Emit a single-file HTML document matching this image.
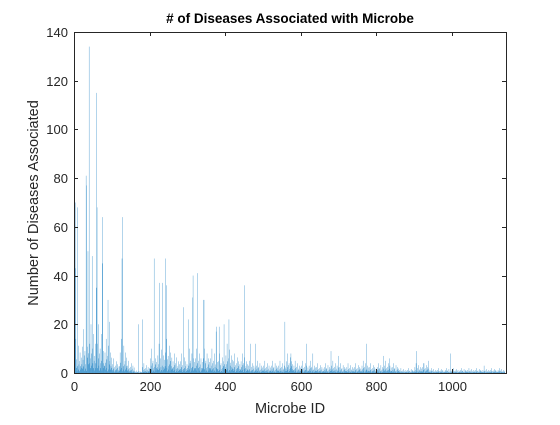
<!DOCTYPE html>
<html><head><meta charset="utf-8"><style>
body{margin:0;background:#fff;}
svg text{font-family:"Liberation Sans",Arial,sans-serif;fill:#262626;}
</style></head><body>
<svg id="chart" width="560" height="420" viewBox="0 0 560 420" xmlns="http://www.w3.org/2000/svg">
<rect width="560" height="420" fill="#fff"/>
<g id="bars"></g>
<g id="axes"></g>
<text x="290" y="23" text-anchor="middle" font-size="13.5" font-weight="bold" style="fill:#000"># of Diseases Associated with Microbe</text>
<text x="290" y="413" text-anchor="middle" font-size="14.5">Microbe ID</text>
<text transform="translate(38,203) rotate(-90)" text-anchor="middle" font-size="14.5">Number of Diseases Associated</text>
</svg>
<script>
// typical peak level per block of 20 microbe IDs
const blockSize = 20;
const blockLevels = [14,18,20,20,14,6,14,5,1,4,10,12,14,8,8,10,10,10,10,8,12,8,8,5,5,5,5,5,8,5,5,5,4,4,5,4,4,4,5,4,4,5,4,2,2,4,4,2,2,2,2,2,2,2,2,2,2];
// relative heights of the 20 bars within each block (read pattern)
const withinBlock = [0.2,0.6,0.1,0.3,1,0.15,0.4,0.05,0.5,0.2,0.1,0.8,0.25,0.05,0.35,0.6,0.1,0.2,0.45,0.15];
// notable spikes: microbe IDs and their values
const spikeIds =    [40,60,32,33,3,9,61,75,129,127,37,48,4,59,76,90,94,212,243,244,227,235,170,181,315,326,343,314,289,302,377,344,451,410,384,397,376,558,615,680,700,774,818,834,907,938,926,996,1085,480,467,574,632];
const spikeValues = [134,115,81,77,70,68,68,64,64,47,50,48,43,35,45,30,21,47,47,36,37,37,20,22,40,41,30,31,27,22,19,30,36,22,19,20,17,21,12,9,7,12,7,6,9,5,4,8,3,12,12,8,8];
const xTicks = [0,200,400,600,800,1000];
const yTicks = [0,20,40,60,80,100,120,140];
const nBars = 1140;

const L=74, R=506, T=32, B=373, xMax=1143, yMax=140;
const sx = v => L + v*(R-L)/xMax;
const sy = v => B - v*(B-T)/yMax;
const NS="http://www.w3.org/2000/svg";
const bars=document.getElementById('bars');
const bw=0.8*(R-L)/xMax;
const vals=[];
for(let i=1;i<=nBars;i++){
  const b=Math.min(blockLevels.length-1,Math.floor((i-1)/blockSize));
  vals[i]=blockLevels[b]*withinBlock[(i-1)%blockSize];
}
spikeIds.forEach((id,k)=>{vals[id]=spikeValues[k];});
for(let i=1;i<=nBars;i++){
  const r=document.createElementNS(NS,'rect');
  
  
  r.setAttribute('x',sx(i)-bw/2);r.setAttribute('width',bw);
  r.setAttribute('y',sy(vals[i]));r.setAttribute('height',B-sy(vals[i]));
  r.setAttribute('fill','#0072BD');
  bars.appendChild(r);
}
const ax=document.getElementById('axes');
function line(x1,y1,x2,y2){const l=document.createElementNS(NS,'line');
 l.setAttribute('x1',x1);l.setAttribute('y1',y1);l.setAttribute('x2',x2);l.setAttribute('y2',y2);
 l.setAttribute('stroke','#262626');l.setAttribute('stroke-width','1');ax.appendChild(l);return l;}
const box=document.createElementNS(NS,'rect');


box.setAttribute('x',L+0.5);box.setAttribute('y',T+0.5);box.setAttribute('width',R-L);box.setAttribute('height',B-T);
box.setAttribute('fill','none');box.setAttribute('stroke','#262626');ax.appendChild(box);
xTicks.forEach(t=>{const x=Math.round(sx(t))+0.5;line(x,B,x,B-4);line(x,T,x,T+4);
 const tx=document.createElementNS(NS,'text');
 
 
 tx.setAttribute('x',x);tx.setAttribute('y',B+18);tx.setAttribute('text-anchor','middle');tx.setAttribute('font-size','13');tx.textContent=t;ax.appendChild(tx);});
yTicks.forEach(t=>{const y=Math.round(sy(t))+0.5;line(L,y,L+4,y);line(R,y,R-4,y);
 const tx=document.createElementNS(NS,'text');
 
 
 tx.setAttribute('x',L-6);tx.setAttribute('y',y+4.5);tx.setAttribute('text-anchor','end');tx.setAttribute('font-size','13');tx.textContent=t;ax.appendChild(tx);});
</script>
</body></html>
